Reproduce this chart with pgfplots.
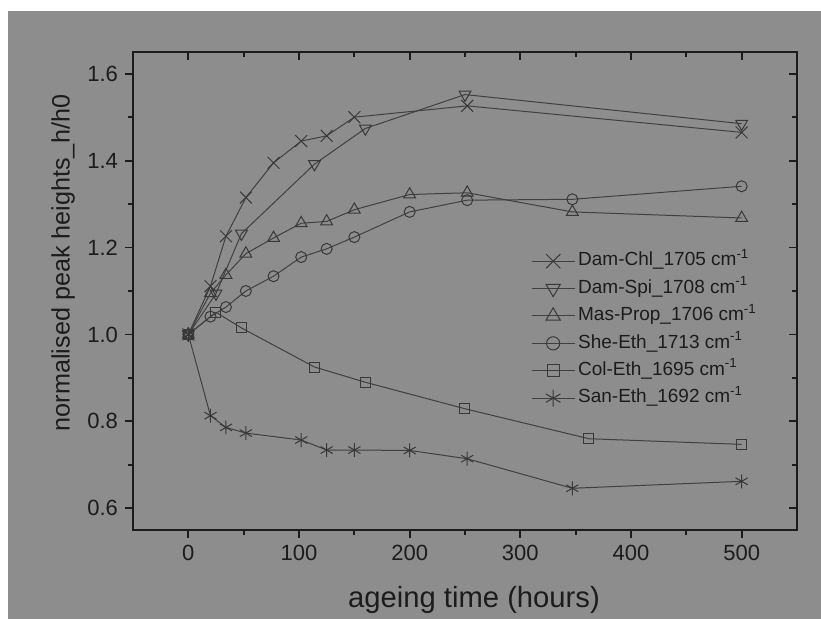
\documentclass[border=0pt]{standalone}
\usepackage{fontspec}
\setmainfont{Liberation Sans}
\usepackage{pgfplots}
\pgfplotsset{compat=1.18}
\definecolor{bg}{HTML}{8D8D8D}
\definecolor{ink}{HTML}{1C1C1C}
\definecolor{ln}{HTML}{404040}
\definecolor{mk}{HTML}{383838}
\begin{document}
\begin{tikzpicture}
\path[use as bounding box] (-66.5pt,-44.5pt) rectangle (344pt,265pt);
\fill[white] (-66.5pt,-44.5pt) rectangle (344pt,265pt);
\fill[bg] (-62.5pt,-44.5pt) rectangle (344pt,259.5pt);
\pgfplotsset{
  myaxis/.style={
    at={(0,0)}, anchor=south west,
    scale only axis, width=332pt, height=239pt,
    xmin=-50, xmax=550, ymin=0.55, ymax=1.65,
    xtick={0,100,...,500}, ytick={0.6,0.8,...,1.61},
    minor x tick num=1, minor y tick num=1,
    major tick length=4pt, minor tick length=2.5pt,
    every tick/.style={ink, line width=0.9pt},
    axis line style={ink, line width=1pt},
    /pgf/number format/assume math mode=true,
  }
}
\begin{axis}[myaxis,
    xtick pos=bottom, ytick pos=left, tick align=outside,
    ticklabel style={font=\fontsize{11pt}{13pt}\selectfont, text=ink},
    yticklabel style={/pgf/number format/.cd, fixed, fixed zerofill, precision=1},
    xlabel={ageing time (hours)},
    ylabel={normalised peak heights\_h/h0},
    every axis x label/.style={at={(axis description cs:0.5136,-0.146)}, anchor=center, font=\fontsize{14.6pt}{17pt}\selectfont, text=ink},
    every axis y label/.style={at={(axis description cs:-0.1054,0.5586)}, anchor=center, rotate=90, font=\fontsize{12.6pt}{15pt}\selectfont, text=ink},
    legend cell align=left,
    legend style={at={(axis description cs:0.590,0.598)}, anchor=north west, draw=none, fill=none,
      font=\fontsize{9.5pt}{11pt}\selectfont, text=ink, row sep=1.1pt,
      nodes={inner sep=1.5pt, text height=7.2pt, text depth=2.4pt}},
    legend image code/.code={\draw[#1, every mark/.append style={scale=1.2}, mark repeat=2, mark phase=2] plot coordinates {(0pt,0pt) (10.75pt,0pt) (21.5pt,0pt)};},
    every axis plot/.append style={ln, line width=0.5pt},
  ]
\addplot[mark=x, mark size=4.2pt, mark options={mk, line width=0.5pt}] coordinates {
(0,1.0) (20,1.111) (34,1.226) (52,1.315) (77,1.395) (102,1.445) (125,1.457) (150,1.500) (252,1.526) (500,1.465)};
\addlegendentry{Dam-Chl\_1705 cm\textsuperscript{-1}}
\addplot[mark=triangle, mark size=3.4pt, mark options={mk, line width=0.5pt, rotate=180, fill=none}] coordinates {
(0,1.0) (25,1.094) (48,1.232) (114,1.392) (160,1.474) (250,1.552) (500,1.485)};
\addlegendentry{Dam-Spi\_1708 cm\textsuperscript{-1}}
\addplot[mark=triangle, mark size=3.4pt, mark options={mk, line width=0.5pt, fill=none}] coordinates {
(0,1.0) (20,1.095) (34,1.137) (52,1.186) (77,1.222) (102,1.256) (125,1.260) (150,1.287) (200,1.322) (252,1.326) (347,1.282) (500,1.268)};
\addlegendentry{Mas-Prop\_1706 cm\textsuperscript{-1}}
\addplot[mark=o, mark size=2.75pt, mark options={mk, line width=0.5pt, fill=none}] coordinates {
(0,1.0) (20,1.041) (34,1.063) (52,1.100) (77,1.134) (102,1.178) (125,1.197) (150,1.224) (200,1.282) (252,1.309) (347,1.311) (500,1.341)};
\addlegendentry{She-Eth\_1713 cm\textsuperscript{-1}}
\addplot[mark=square, mark size=2.5pt, mark options={mk, line width=0.5pt, fill=none}] coordinates {
(0,1.0) (25,1.051) (48,1.015) (114,0.925) (160,0.890) (250,0.829) (362,0.760) (500,0.747)};
\addlegendentry{Col-Eth\_1695 cm\textsuperscript{-1}}
\addplot[mark=asterisk, mark size=3.5pt, mark options={mk, line width=0.5pt}] coordinates {
(0,1.0) (20,0.813) (34,0.786) (52,0.773) (102,0.757) (125,0.734) (150,0.734) (200,0.733) (252,0.714) (347,0.646) (500,0.662)};
\addlegendentry{San-Eth\_1692 cm\textsuperscript{-1}}
\end{axis}
\begin{axis}[myaxis,
    xtick pos=top, ytick pos=right, tick align=inside,
    xticklabels={}, yticklabels={}, axis line style={draw=none}]
\end{axis}
\end{tikzpicture}
\end{document}
